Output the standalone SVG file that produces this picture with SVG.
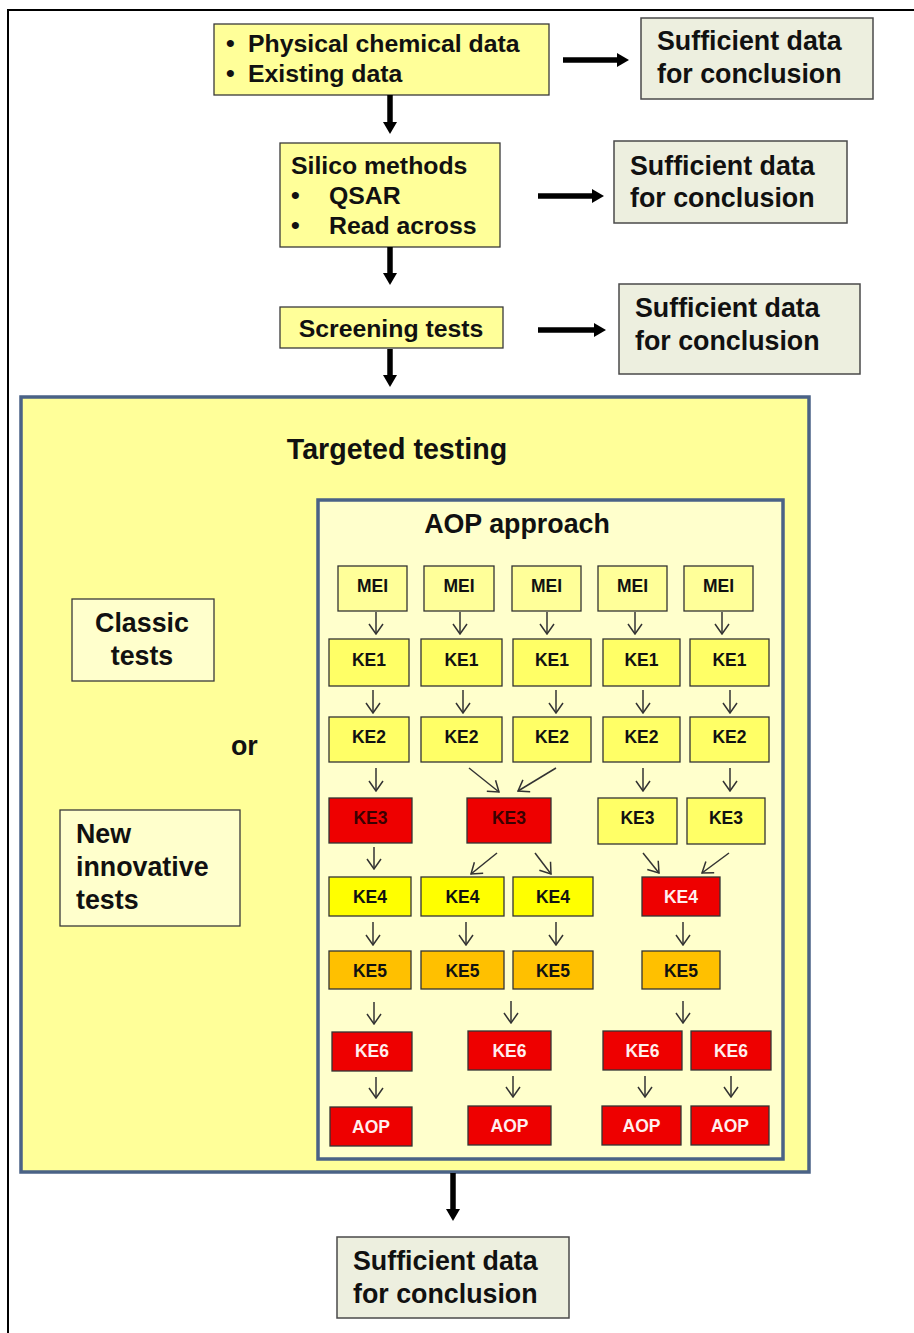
<svg xmlns="http://www.w3.org/2000/svg" width="914" height="1333" viewBox="0 0 914 1333">
<defs>
<style>
text{font-family:"Liberation Sans",Arial,sans-serif;font-weight:bold;fill:#111}
.yb{fill:#ffff99;stroke:#3a3a3a;stroke-width:1.3}
.sb{fill:#edefdf;stroke:#4a4a4a;stroke-width:1.5}
.big{fill:#ffff99;stroke:#4a6286;stroke-width:3.5}
.aop{fill:#ffffcc;stroke:#4a6286;stroke-width:3.5}
.lb{fill:#ffffcc;stroke:#3a3a3a;stroke-width:1.3}
.mei{fill:#ffff99;stroke:#333;stroke-width:1.3}
.k{fill:#ffff66;stroke:#333;stroke-width:1.3}
.ky{fill:#ffff00;stroke:#333;stroke-width:1.3}
.ko{fill:#ffc000;stroke:#333;stroke-width:1.3}
.kr{fill:#ee0000;stroke:#333;stroke-width:1.3}
.t24{font-size:24.8px}
.t26{font-size:26.8px}
.s{font-size:17.5px;text-anchor:middle}
.w{fill:#ffeeee}
.d{fill:#3a0000}
.thick{stroke:#000;stroke-width:5.5;fill:none}
.thin{stroke:#333;stroke-width:1.5;fill:none}
</style>
<marker id="hb" markerUnits="userSpaceOnUse" markerWidth="12" markerHeight="14" refX="0" refY="7" orient="auto" viewBox="0 0 12 14">
<path d="M0,0 L12,7 L0,14 z" fill="#000"/>
</marker>
<marker id="hv" markerUnits="userSpaceOnUse" markerWidth="12" markerHeight="16" refX="11" refY="8" orient="auto" viewBox="0 0 12 16">
<path d="M1,1 L11,8 L1,15" fill="none" stroke="#333" stroke-width="1.5"/>
</marker>
</defs>
<rect width="914" height="1333" fill="#fff"/>
<path d="M8,1333 V10 H914" fill="none" stroke="#000" stroke-width="2"/>

<g id="targeted">
<rect class="big" x="21" y="397" width="788" height="775"/>
<text x="397" y="459" font-size="28.6" text-anchor="middle">Targeted testing</text>
</g>
<g id="aop-approach">
<rect class="aop" x="318" y="500" width="465" height="659"/>
<text x="517" y="533" font-size="26.8" text-anchor="middle">AOP approach</text>
</g>

<g id="physchem">
<rect class="yb" x="214" y="24" width="335" height="71"/>
<text class="t24" x="226" y="52">•</text><text class="t24" x="248" y="52">Physical chemical data</text>
<text class="t24" x="226" y="82">•</text><text class="t24" x="248" y="82">Existing data</text>
</g>
<g id="suff1">
<rect class="sb" x="641" y="18" width="232" height="81"/>
<text class="t26" x="657" y="50">Sufficient data</text>
<text class="t26" x="657" y="83">for conclusion</text>
</g>
<g id="silico">
<rect class="yb" x="280" y="143" width="220" height="104"/>
<text class="t24" x="291" y="174">Silico methods</text>
<text class="t24" x="291" y="204">•</text><text class="t24" x="329" y="204">QSAR</text>
<text class="t24" x="291" y="234">•</text><text class="t24" x="329" y="234">Read across</text>
</g>
<g id="suff2">
<rect class="sb" x="614" y="141" width="233" height="82"/>
<text class="t26" x="630" y="175">Sufficient data</text>
<text class="t26" x="630" y="207">for conclusion</text>
</g>
<g id="screening">
<rect class="yb" x="280" y="307" width="223" height="41"/>
<text class="t24" x="391" y="337" text-anchor="middle">Screening tests</text>
</g>
<g id="suff3">
<rect class="sb" x="619" y="284" width="241" height="90"/>
<text class="t26" x="635" y="317">Sufficient data</text>
<text class="t26" x="635" y="350">for conclusion</text>
</g>
<g id="classic">
<rect class="lb" x="72" y="599" width="142" height="82"/>
<text class="t26" x="142" y="632" text-anchor="middle">Classic</text>
<text class="t26" x="142" y="665" text-anchor="middle">tests</text>
</g>
<g id="or"><text class="t26" x="231" y="755">or</text></g>
<g id="innovative">
<rect class="lb" x="60" y="810" width="180" height="116"/>
<text class="t26" x="76" y="843">New</text>
<text class="t26" x="76" y="876">innovative</text>
<text class="t26" x="76" y="909">tests</text>
</g>
<g id="suff4">
<rect class="sb" x="337" y="1237" width="232" height="81"/>
<text class="t26" x="353" y="1270">Sufficient data</text>
<text class="t26" x="353" y="1303">for conclusion</text>
</g>

<g id="mei">
<rect class="mei" x="338" y="566" width="69" height="45"/><text class="s" x="372.5" y="592">MEI</text>
<rect class="mei" x="424" y="566" width="70" height="45"/><text class="s" x="459" y="592">MEI</text>
<rect class="mei" x="512" y="566" width="69" height="45"/><text class="s" x="546.5" y="592">MEI</text>
<rect class="mei" x="598" y="566" width="69" height="45"/><text class="s" x="632.5" y="592">MEI</text>
<rect class="mei" x="684" y="566" width="69" height="45"/><text class="s" x="718.5" y="592">MEI</text>
</g>
<g id="ke1">
<rect class="k" x="329" y="639" width="80" height="47"/><text class="s" x="369" y="666">KE1</text>
<rect class="k" x="421" y="639" width="81" height="47"/><text class="s" x="461.5" y="666">KE1</text>
<rect class="k" x="513" y="639" width="78" height="47"/><text class="s" x="552" y="666">KE1</text>
<rect class="k" x="603" y="639" width="77" height="47"/><text class="s" x="641.5" y="666">KE1</text>
<rect class="k" x="690" y="639" width="79" height="47"/><text class="s" x="729.5" y="666">KE1</text>
</g>
<g id="ke2">
<rect class="k" x="329" y="717" width="80" height="45"/><text class="s" x="369" y="743">KE2</text>
<rect class="k" x="421" y="717" width="81" height="45"/><text class="s" x="461.5" y="743">KE2</text>
<rect class="k" x="513" y="717" width="78" height="45"/><text class="s" x="552" y="743">KE2</text>
<rect class="k" x="603" y="717" width="77" height="45"/><text class="s" x="641.5" y="743">KE2</text>
<rect class="k" x="690" y="717" width="79" height="45"/><text class="s" x="729.5" y="743">KE2</text>
</g>
<g id="ke3">
<rect class="kr" x="329" y="798" width="83" height="45"/><text class="s d" x="370.5" y="824">KE3</text>
<rect class="kr" x="467" y="798" width="84" height="45"/><text class="s d" x="509" y="824">KE3</text>
<rect class="k" x="598" y="798" width="79" height="46"/><text class="s" x="637.5" y="824">KE3</text>
<rect class="k" x="687" y="798" width="78" height="46"/><text class="s" x="726" y="824">KE3</text>
</g>
<g id="ke4">
<rect class="ky" x="329" y="877" width="82" height="39"/><text class="s" x="370" y="903">KE4</text>
<rect class="ky" x="421" y="877" width="83" height="39"/><text class="s" x="462.5" y="903">KE4</text>
<rect class="ky" x="513" y="877" width="80" height="39"/><text class="s" x="553" y="903">KE4</text>
<rect class="kr" x="642" y="877" width="78" height="39"/><text class="s w" x="681" y="903">KE4</text>
</g>
<g id="ke5">
<rect class="ko" x="329" y="951" width="82" height="38"/><text class="s" x="370" y="977">KE5</text>
<rect class="ko" x="421" y="951" width="83" height="38"/><text class="s" x="462.5" y="977">KE5</text>
<rect class="ko" x="513" y="951" width="80" height="38"/><text class="s" x="553" y="977">KE5</text>
<rect class="ko" x="642" y="951" width="78" height="38"/><text class="s" x="681" y="977">KE5</text>
</g>
<g id="ke6">
<rect class="kr" x="332" y="1032" width="80" height="39"/><text class="s w" x="372" y="1057">KE6</text>
<rect class="kr" x="468" y="1031" width="83" height="39"/><text class="s w" x="509.5" y="1057">KE6</text>
<rect class="kr" x="603" y="1031" width="79" height="39"/><text class="s w" x="642.5" y="1057">KE6</text>
<rect class="kr" x="691" y="1031" width="80" height="39"/><text class="s w" x="731" y="1057">KE6</text>
</g>
<g id="aop">
<rect class="kr" x="330" y="1107" width="82" height="39"/><text class="s w" x="371" y="1133">AOP</text>
<rect class="kr" x="468" y="1106" width="83" height="39"/><text class="s w" x="509.5" y="1132">AOP</text>
<rect class="kr" x="602" y="1106" width="79" height="39"/><text class="s w" x="641.5" y="1132">AOP</text>
<rect class="kr" x="691" y="1106" width="78" height="39"/><text class="s w" x="730" y="1132">AOP</text>
</g>

<g id="connectors">
<line class="thick" x1="390" y1="95" x2="390" y2="122" marker-end="url(#hb)"/>
<line class="thick" x1="390" y1="247" x2="390" y2="273" marker-end="url(#hb)"/>
<line class="thick" x1="390" y1="349" x2="390" y2="375" marker-end="url(#hb)"/>
<line class="thick" x1="453" y1="1173" x2="453" y2="1209" marker-end="url(#hb)"/>
<line class="thick" x1="563" y1="60" x2="617" y2="60" marker-end="url(#hb)"/>
<line class="thick" x1="538" y1="196" x2="592" y2="196" marker-end="url(#hb)"/>
<line class="thick" x1="538" y1="330" x2="594" y2="330" marker-end="url(#hb)"/>

<line class="thin" x1="376" y1="612" x2="376" y2="634" marker-end="url(#hv)"/>
<line class="thin" x1="460" y1="612" x2="460" y2="634" marker-end="url(#hv)"/>
<line class="thin" x1="547" y1="612" x2="547" y2="634" marker-end="url(#hv)"/>
<line class="thin" x1="635" y1="612" x2="635" y2="634" marker-end="url(#hv)"/>
<line class="thin" x1="722" y1="612" x2="722" y2="634" marker-end="url(#hv)"/>

<line class="thin" x1="373" y1="690" x2="373" y2="713" marker-end="url(#hv)"/>
<line class="thin" x1="463" y1="690" x2="463" y2="713" marker-end="url(#hv)"/>
<line class="thin" x1="556" y1="690" x2="556" y2="713" marker-end="url(#hv)"/>
<line class="thin" x1="643" y1="690" x2="643" y2="713" marker-end="url(#hv)"/>
<line class="thin" x1="730" y1="690" x2="730" y2="713" marker-end="url(#hv)"/>

<line class="thin" x1="376" y1="768" x2="376" y2="791" marker-end="url(#hv)"/>
<line class="thin" x1="469" y1="768" x2="499" y2="792" marker-end="url(#hv)"/>
<line class="thin" x1="556" y1="768" x2="518" y2="791" marker-end="url(#hv)"/>
<line class="thin" x1="643" y1="768" x2="643" y2="791" marker-end="url(#hv)"/>
<line class="thin" x1="730" y1="768" x2="730" y2="791" marker-end="url(#hv)"/>

<line class="thin" x1="374" y1="847" x2="374" y2="869" marker-end="url(#hv)"/>
<line class="thin" x1="497" y1="853" x2="471" y2="874" marker-end="url(#hv)"/>
<line class="thin" x1="535" y1="853" x2="551" y2="874" marker-end="url(#hv)"/>
<line class="thin" x1="643" y1="853" x2="659" y2="873" marker-end="url(#hv)"/>
<line class="thin" x1="729" y1="853" x2="702" y2="873" marker-end="url(#hv)"/>

<line class="thin" x1="373" y1="922" x2="373" y2="945" marker-end="url(#hv)"/>
<line class="thin" x1="466" y1="922" x2="466" y2="945" marker-end="url(#hv)"/>
<line class="thin" x1="556" y1="922" x2="556" y2="945" marker-end="url(#hv)"/>
<line class="thin" x1="683" y1="922" x2="683" y2="945" marker-end="url(#hv)"/>

<line class="thin" x1="374" y1="1002" x2="374" y2="1024" marker-end="url(#hv)"/>
<line class="thin" x1="511" y1="1001" x2="511" y2="1023" marker-end="url(#hv)"/>
<line class="thin" x1="683" y1="1001" x2="683" y2="1023" marker-end="url(#hv)"/>

<line class="thin" x1="376" y1="1077" x2="376" y2="1098" marker-end="url(#hv)"/>
<line class="thin" x1="513" y1="1076" x2="513" y2="1097" marker-end="url(#hv)"/>
<line class="thin" x1="645" y1="1076" x2="645" y2="1097" marker-end="url(#hv)"/>
<line class="thin" x1="731" y1="1076" x2="731" y2="1097" marker-end="url(#hv)"/>
</g>
</svg>
